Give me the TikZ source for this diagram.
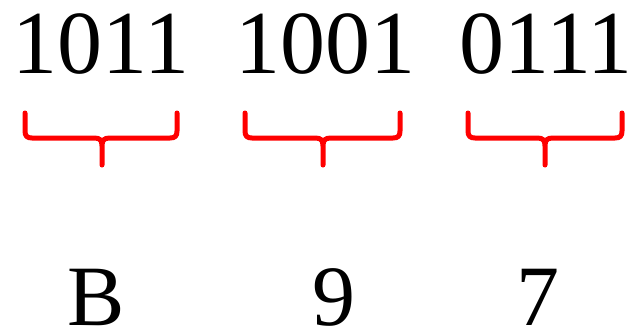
\documentclass[tikz,border=0pt]{standalone}
\usepackage{fontspec}
\setmainfont{Liberation Serif}
\begin{document}
\begin{tikzpicture}[x=1pt,y=-1pt,
  big/.style={inner sep=0pt,anchor=base,font=\fontsize{90}{100}\selectfont},
  low/.style={inner sep=0pt,anchor=base,font=\fontsize{86}{96}\selectfont},
  brace/.style={draw=red,line width=5pt,line cap=round,line join=round}]
\useasboundingbox (0,0) rectangle (634,332);
\node[big] (g1) at (101,73) {1011};
\node[big] (g2) at (325,73) {1001};
\node[big] (g3) at (546,73) {0111};
\foreach \n/\a/\m/\b in {b1/25/102/177, b2/245/323/400, b3/468/545/622}{
  \coordinate (\n) at (\m,165);
  \draw[brace] (\a,113) -- (\a,131) .. controls (\a,136) and (\a+2,138) .. (\a+7,138)
    -- (\m-8,138) .. controls (\m-2,138) and (\m,140) .. (\m,146) -- (\n)
    (\m,146) .. controls (\m,140) and (\m+2,138) .. (\m+8,138)
    -- (\b-7,138) .. controls (\b-2,138) and (\b,136) .. (\b,131) -- (\b,113);
}
\node[low] (h1) at (96,325) {B};
\node[low] (h2) at (334,325) {9};
\node[low] (h3) at (538,325) {7};
\end{tikzpicture}
\end{document}
